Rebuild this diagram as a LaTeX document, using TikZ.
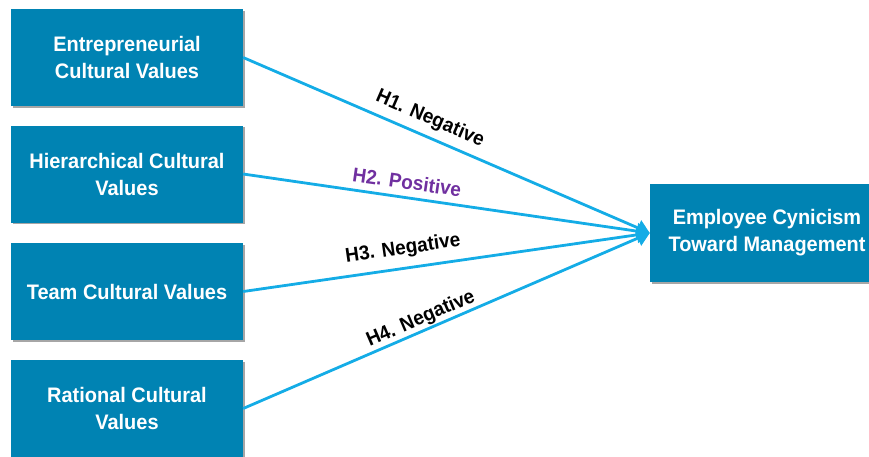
\documentclass[tikz,border=0pt]{standalone}
\usepackage{fontspec}
\setmainfont{Liberation Sans}
\newfontfamily\boxfont[FakeStretch=0.95]{Liberation Sans}
\usetikzlibrary{shadows,arrows.meta}
\definecolor{boxblue}{HTML}{0083B3}
\definecolor{lineblue}{HTML}{14ACE6}
\definecolor{hpurple}{HTML}{7030A0}
\tikzset{
  cbox/.style={rectangle, fill=boxblue, text=white, font=\boxfont\bfseries\fontsize{21}{27}\selectfont,
    align=center, minimum width=232pt, minimum height=97pt, inner sep=0pt,
    drop shadow={shadow xshift=1.5pt, shadow yshift=-1.5pt, opacity=0.35, fill=black}},
  conn/.style={draw=lineblue, line width=2.8pt, -{Triangle[length=13pt,width=16pt]}},
  hlabel/.style={font=\boxfont\bfseries\fontsize{20}{22}\selectfont, inner sep=1pt}
}
\begin{document}
\begin{tikzpicture}[x=1pt,y=-1pt]
\useasboundingbox (0,0) rectangle (869,456);
\clip (0,0) rectangle (869,456);
\node[cbox] (e) at (127,57.5) {Entrepreneurial\\Cultural Values};
\node[cbox] (h) at (127,174) {Hierarchical Cultural\\Values};
\node[cbox] (t) at (127,291.5) {Team Cultural Values};
\node[cbox] (r) at (127,408.5) {Rational Cultural\\Values};
\node[cbox, minimum width=234pt, minimum height=98pt] (c) at (767,233) {Employee Cynicism\\Toward Management};
\coordinate (tip) at (c.west);
\draw[conn] (e.east) -- (tip);
\draw[conn] (h.east) -- (tip);
\draw[conn] (t.east) -- (tip);
\draw[conn] (r.east) -- (tip);
\node[hlabel, rotate=-23.4] (l1) at (430,119) {H1. Negative};
\node[hlabel, rotate=-8.1, text=hpurple] (l2) at (407,182) {H2. Positive};
\node[hlabel, rotate=8.2] (l3) at (403,249) {H3. Negative};
\node[hlabel, rotate=23.3] (l4) at (421,319) {H4. Negative};
\end{tikzpicture}
\end{document}
